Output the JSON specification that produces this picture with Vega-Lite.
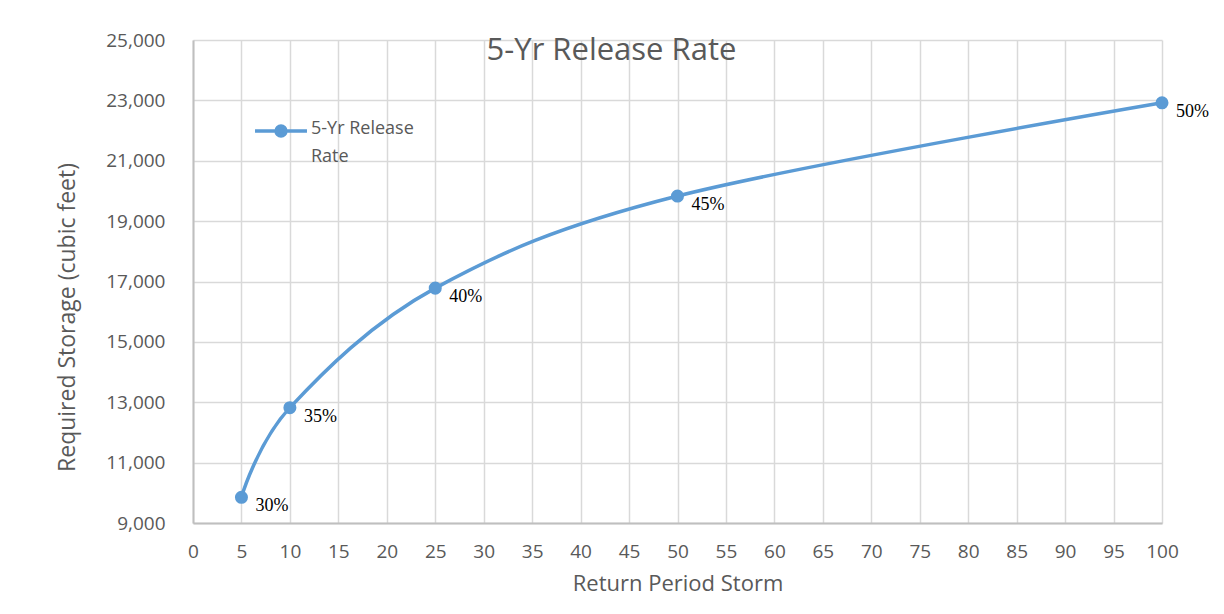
{
  "$schema": "https://vega.github.io/schema/vega-lite/v6.json",
  "autosize": "none",
  "width": 969,
  "height": 483,
  "padding": {"left": 193, "top": 40, "right": 62, "bottom": 91},
  "background": "white",
  "config": {
    "font": "Open Sans",
    "view": {"stroke": null}
  },
  "title": {
    "text": "5-Yr Release Rate",
    "font": "Open Sans",
    "fontSize": 31,
    "fontWeight": "normal",
    "color": "#595959",
    "anchor": "middle",
    "baseline": "middle",
    "offset": -51,
    "dx": -66
  },
  "data": {
    "values": [
      {"storm": 5, "storage": 9850, "label": "30%", "series": "5-Yr Release Rate"},
      {"storm": 10, "storage": 12820, "label": "35%", "series": "5-Yr Release Rate"},
      {"storm": 25, "storage": 16780, "label": "40%", "series": "5-Yr Release Rate"},
      {"storm": 50, "storage": 19830, "label": "45%", "series": "5-Yr Release Rate"},
      {"storm": 100, "storage": 22920, "label": "50%", "series": "5-Yr Release Rate"}
    ]
  },
  "encoding": {
    "x": {
      "field": "storm",
      "type": "quantitative",
      "scale": {"domain": [0, 100], "nice": false},
      "axis": {
        "title": "Return Period Storm",
        "values": [0,5,10,15,20,25,30,35,40,45,50,55,60,65,70,75,80,85,90,95,100],
        "labelFlush": false,
        "titleFont": "Open Sans",
        "titleFontSize": 22,
        "titleFontWeight": "normal",
        "titleColor": "#595959",
        "titlePadding": 12,
        "labelFont": "Open Sans",
        "labelFontSize": 19,
        "labelColor": "#595959",
        "labelPadding": 19,
        "ticks": false,
        "domainColor": "#bfbfbf",
        "domainWidth": 2,
        "gridColor": "#d9d9d9",
        "gridWidth": 1.5
      }
    },
    "y": {
      "field": "storage",
      "type": "quantitative",
      "scale": {"domain": [9000, 25000], "nice": false, "zero": false},
      "axis": {
        "title": "Required Storage (cubic feet)",
        "values": [9000,11000,13000,15000,17000,19000,21000,23000,25000],
        "format": ",d",
        "titleFont": "Open Sans",
        "titleFontSize": 23,
        "titleFontWeight": "normal",
        "titleColor": "#595959",
        "titlePadding": 26,
        "titleY": 277,
        "labelFont": "Open Sans",
        "labelFontSize": 19,
        "labelColor": "#595959",
        "labelPadding": 28,
        "ticks": false,
        "domainColor": "#bfbfbf",
        "domainWidth": 2,
        "gridColor": "#d9d9d9",
        "gridWidth": 1.5
      }
    }
  },
  "layer": [
    {
      "mark": {"type": "line", "interpolate": "cardinal", "tension": 0, "strokeWidth": 3.5, "point": {"filled": true, "size": 170, "opacity": 1}},
      "encoding": {
        "color": {
          "field": "series",
          "type": "nominal",
          "scale": {"range": ["#5B9BD5"]},
          "legend": {
            "title": null,
            "orient": "none",
            "legendX": 60,
            "legendY": 63,
            "symbolType": "M -1 0 L 1 0 M -0.19 0 A 0.19 0.19 0 1 1 0.19 0 A 0.19 0.19 0 1 1 -0.19 0",
            "symbolSize": 2700,
            "symbolStrokeWidth": 3.5,
            "symbolFillColor": "#5B9BD5",
            "symbolStrokeColor": "#5B9BD5",
            "labelExpr": "['5-Yr Release', 'Rate']",
            "labelFont": "Open Sans",
            "labelFontSize": 18,
            "labelColor": "#595959",
            "labelBaseline": "top",
            "labelOffset": 2,
            "labelLimit": 300,
            "encode": {
              "labels": {"update": {"dy": {"value": -11}, "lineHeight": {"value": 28}}}
            }
          }
        }
      }
    },
    {
      "mark": {"type": "text", "align": "left", "baseline": "middle", "dx": 14, "dy": 9, "font": "Liberation Serif", "fontSize": 18, "color": "black"},
      "encoding": {"text": {"field": "label"}}
    }
  ]
}
